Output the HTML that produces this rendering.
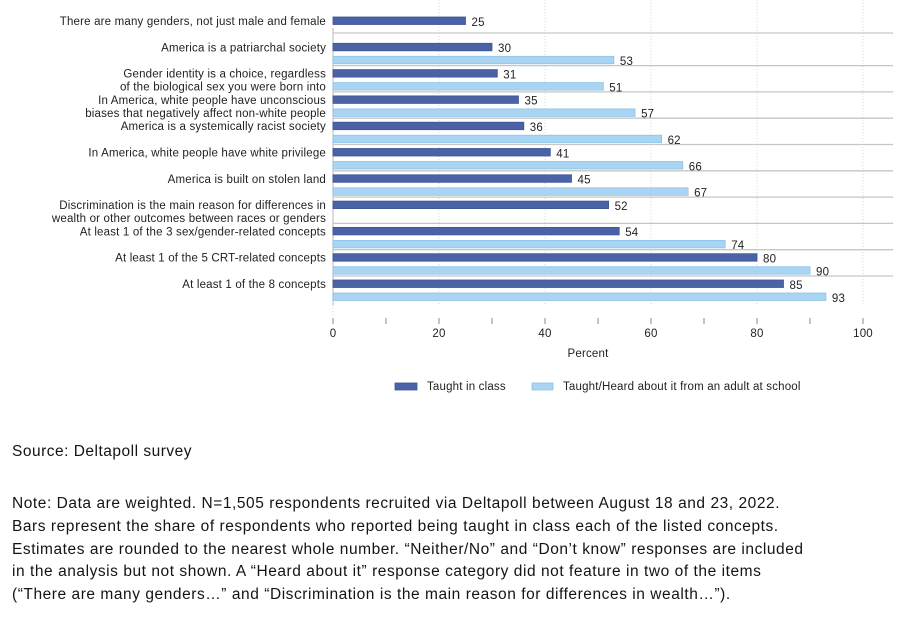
<!DOCTYPE html>
<html>
<head>
<meta charset="utf-8">
<style>
  html,body{margin:0;padding:0;background:#fff;}
  body{width:901px;height:629px;position:relative;overflow:hidden;font-family:"Liberation Sans",Arial,sans-serif;}
  svg{position:absolute;left:0;top:0;}
  .src{position:absolute;left:12px;top:442px;font-size:15.5px;letter-spacing:0.5px;color:#141414;white-space:nowrap;line-height:20px;}
  .note{position:absolute;left:12px;top:493px;font-size:15.5px;letter-spacing:0.55px;color:#141414;line-height:22.75px;white-space:nowrap;}
  svg text{letter-spacing:0.18px;}
</style>
</head>
<body>
<svg width="901" height="629" viewBox="0 0 901 629" xmlns="http://www.w3.org/2000/svg" font-family="Liberation Sans, Arial, sans-serif">
  <!-- vertical dotted gridlines -->
  <g stroke="#d6d6d6" stroke-width="1" stroke-dasharray="1 2">
    <line x1="439" y1="0" x2="439" y2="306"/>
    <line x1="545" y1="0" x2="545" y2="306"/>
    <line x1="651" y1="0" x2="651" y2="306"/>
    <line x1="757" y1="0" x2="757" y2="306"/>
    <line x1="863" y1="0" x2="863" y2="306"/>
    <line x1="333" y1="305" x2="333" y2="317"/>
  </g>
  <line x1="333" y1="28" x2="333" y2="305" stroke="#c4c4c4" stroke-width="1.2"/>
  <!-- horizontal separators -->
  <g stroke="#c6c6c6" stroke-width="1.3">
    <line x1="333" y1="33" x2="893" y2="33"/>
    <line x1="333" y1="65.6" x2="893" y2="65.6"/>
    <line x1="333" y1="91.9" x2="893" y2="91.9"/>
    <line x1="333" y1="118.2" x2="893" y2="118.2"/>
    <line x1="333" y1="144.5" x2="893" y2="144.5"/>
    <line x1="333" y1="170.8" x2="893" y2="170.8"/>
    <line x1="333" y1="197.1" x2="893" y2="197.1"/>
    <line x1="333" y1="223.4" x2="893" y2="223.4"/>
    <line x1="333" y1="249.7" x2="893" y2="249.7"/>
    <line x1="333" y1="276" x2="893" y2="276"/>
  </g>
  <!-- dark bars -->
  <g fill="#4b63a6" stroke="#3e5597" stroke-width="0.8">
    <rect x="333" y="17" width="132.5" height="7.5"/>
    <rect x="333" y="43.3" width="159" height="7.5"/>
    <rect x="333" y="69.6" width="164.3" height="7.5"/>
    <rect x="333" y="95.9" width="185.5" height="7.5"/>
    <rect x="333" y="122.2" width="190.8" height="7.5"/>
    <rect x="333" y="148.5" width="217.3" height="7.5"/>
    <rect x="333" y="174.8" width="238.5" height="7.5"/>
    <rect x="333" y="201.1" width="275.6" height="7.5"/>
    <rect x="333" y="227.4" width="286.2" height="7.5"/>
    <rect x="333" y="253.7" width="424" height="7.5"/>
    <rect x="333" y="280" width="450.5" height="7.5"/>
  </g>
  <!-- light bars -->
  <g fill="#aad5f2" stroke="#8cc3ea" stroke-width="0.8">
    <rect x="333" y="56.3" width="280.9" height="7.5"/>
    <rect x="333" y="82.6" width="270.3" height="7.5"/>
    <rect x="333" y="108.9" width="302.1" height="7.5"/>
    <rect x="333" y="135.2" width="328.6" height="7.5"/>
    <rect x="333" y="161.5" width="349.8" height="7.5"/>
    <rect x="333" y="187.8" width="355.1" height="7.5"/>
    <rect x="333" y="240.4" width="392.2" height="7.5"/>
    <rect x="333" y="266.7" width="477" height="7.5"/>
    <rect x="333" y="293" width="492.9" height="7.5"/>
  </g>
  <!-- value labels -->
  <g font-size="11.5" fill="#222">
    <text x="471.5" y="25.75">25</text>
    <text x="498" y="52">30</text>
    <text x="619.9" y="65">53</text>
    <text x="503.3" y="78.4">31</text>
    <text x="609.3" y="91.4">51</text>
    <text x="524.5" y="104.7">35</text>
    <text x="641.1" y="117.7">57</text>
    <text x="529.8" y="131">36</text>
    <text x="667.6" y="144">62</text>
    <text x="556.3" y="157.3">41</text>
    <text x="688.8" y="170.3">66</text>
    <text x="577.5" y="183.6">45</text>
    <text x="694.1" y="196.6">67</text>
    <text x="614.6" y="209.9">52</text>
    <text x="625.2" y="236.2">54</text>
    <text x="731.2" y="249.2">74</text>
    <text x="763" y="262.5">80</text>
    <text x="816" y="275.5">90</text>
    <text x="789.5" y="288.8">85</text>
    <text x="831.9" y="301.8">93</text>
  </g>
  <!-- category labels -->
  <g font-size="11.5" fill="#222" text-anchor="end">
    <text x="326" y="25">There are many genders, not just male and female</text>
    <text x="326" y="51.3">America is a patriarchal society</text>
    <text x="326" y="77.6">Gender identity is a choice, regardless</text>
    <text x="326" y="90.6">of the biological sex you were born into</text>
    <text x="326" y="103.9">In America, white people have unconscious</text>
    <text x="326" y="116.9">biases that negatively affect non-white people</text>
    <text x="326" y="130.2">America is a systemically racist society</text>
    <text x="326" y="156.5">In America, white people have white privilege</text>
    <text x="326" y="182.8">America is built on stolen land</text>
    <text x="326" y="209.1">Discrimination is the main reason for differences in</text>
    <text x="326" y="222.1">wealth or other outcomes between races or genders</text>
    <text x="326" y="235.4">At least 1 of the 3 sex/gender-related concepts</text>
    <text x="326" y="261.7">At least 1 of the 5 CRT-related concepts</text>
    <text x="326" y="288">At least 1 of the 8 concepts</text>
  </g>
  <!-- ticks -->
  <g stroke="#8a8a8a" stroke-width="1">
    <line x1="333" y1="318" x2="333" y2="324"/>
    <line x1="386" y1="318" x2="386" y2="324"/>
    <line x1="439" y1="318" x2="439" y2="324"/>
    <line x1="492" y1="318" x2="492" y2="324"/>
    <line x1="545" y1="318" x2="545" y2="324"/>
    <line x1="598" y1="318" x2="598" y2="324"/>
    <line x1="651" y1="318" x2="651" y2="324"/>
    <line x1="704" y1="318" x2="704" y2="324"/>
    <line x1="757" y1="318" x2="757" y2="324"/>
    <line x1="810" y1="318" x2="810" y2="324"/>
    <line x1="863" y1="318" x2="863" y2="324"/>
  </g>
  <g font-size="11.5" fill="#222" text-anchor="middle">
    <text x="333" y="337">0</text>
    <text x="439" y="337">20</text>
    <text x="545" y="337">40</text>
    <text x="651" y="337">60</text>
    <text x="757" y="337">80</text>
    <text x="863" y="337">100</text>
    <text x="588" y="357">Percent</text>
  </g>
  <!-- legend -->
  <rect x="395" y="383" width="22" height="7" fill="#4b63a6" stroke="#3e5597" stroke-width="0.8"/>
  <text x="427" y="390" font-size="11.5" fill="#222">Taught in class</text>
  <rect x="532" y="383" width="21" height="7" fill="#aad5f2" stroke="#8cc3ea" stroke-width="0.8"/>
  <text x="563" y="390" font-size="11.5" fill="#222">Taught/Heard about it from an adult at school</text>
</svg>
<div class="src">Source: Deltapoll survey</div>
<div class="note">Note: Data are weighted. N=1,505 respondents recruited via Deltapoll between August 18 and 23, 2022.<br>Bars represent the share of respondents who reported being taught in class each of the listed concepts.<br>Estimates are rounded to the nearest whole number. “Neither/No” and “Don’t know” responses are included<br>in the analysis but not shown. A “Heard about it” response category did not feature in two of the items<br>(“There are many genders…” and “Discrimination is the main reason for differences in wealth…”).</div>
</body>
</html>
